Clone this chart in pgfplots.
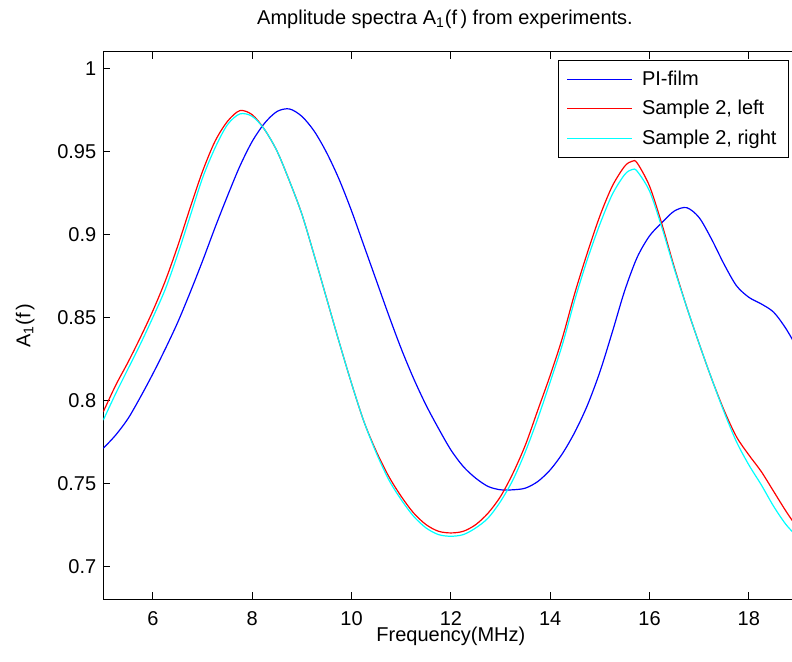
\documentclass[border=0pt]{standalone}
\usepackage{fontspec}
\setmainfont{Liberation Sans}
\usepackage{pgfplots}
\pgfplotsset{compat=1.18}
\definecolor{mblue}{rgb}{0,0,1}
\definecolor{mred}{rgb}{1,0,0}
\definecolor{mcyan}{rgb}{0,1,1}
\newcommand{\ff}{\fontsize{10}{12}\selectfont}
\begin{document}
\begin{tikzpicture}
\begin{axis}[
  name=ax,
  scale only axis,
  width=347.6pt, height=273.8pt,
  xmin=5, xmax=19, ymin=0.68, ymax=1.01,
  xtick={6,8,...,18},
  ytick={0.7,0.75,0.8,0.85,0.9,0.95,1},
  yticklabels={0.7,0.75,0.8,0.85,0.9,0.95,1},
  tick align=inside,
  major tick length=3.5pt,
  axis line style={line width=0.5pt},
  every tick/.style={black, line width=0.5pt},
  /pgf/number format/assume math mode=true,
  tick label style={font=\ff},
  xticklabel style={inner sep=1pt, yshift=-4.9pt},
  title={Amplitude spectra A\textsubscript{1}(f\,) from experiments.},
  title style={font=\ff, at={(0.4915,1)}, anchor=base, yshift=7.8pt},
  xlabel={Frequency(MHz)},
  xlabel style={font=\ff, inner sep=1pt, at={(0.5,0)}, anchor=base, yshift=-21pt},
  ylabel={A\textsubscript{1}(f\,)},
  ylabel style={font=\ff, at={(0,0.5)}, anchor=base, yshift=36.5pt},
  legend cell align=left,
  legend image code/.code={\draw[#1] (0pt,0pt) -- (32.5pt,0pt); \path (35pt,0pt);},
  legend style={at={(0.6545,0.9848)}, anchor=north west, draw=black, line width=0.5pt,
    font=\ff, inner xsep=4pt, inner ysep=3pt, row sep=2pt},
]
\addplot[mblue, line width=0.6pt, smooth] coordinates {
(5.00,0.771) (5.25,0.779) (5.50,0.789) (5.75,0.802) (6.00,0.816) (6.25,0.831)
(6.50,0.847) (6.75,0.865) (7.00,0.884) (7.25,0.904) (7.50,0.923) (7.75,0.941)
(8.00,0.956) (8.25,0.967) (8.50,0.974) (8.75,0.9755) (9.00,0.971) (9.25,0.962)
(9.50,0.949) (9.75,0.933) (10.00,0.914) (10.25,0.893) (10.50,0.872) (10.75,0.851)
(11.00,0.831) (11.25,0.813) (11.50,0.797) (11.75,0.783) (12.00,0.770) (12.25,0.760)
(12.50,0.753) (12.75,0.748) (13.00,0.746) (13.25,0.746) (13.50,0.747) (13.75,0.751)
(14.00,0.758) (14.25,0.768) (14.50,0.781) (14.75,0.797) (15.00,0.817) (15.25,0.841)
(15.50,0.866) (15.75,0.886) (16.00,0.899) (16.25,0.907) (16.50,0.914) (16.75,0.916)
(17.00,0.910) (17.25,0.897) (17.50,0.882) (17.75,0.869) (18.00,0.862) (18.25,0.858)
(18.50,0.853) (18.75,0.843) (19.00,0.830)
};
\addlegendentry{PI-film}
\addplot[mred, line width=0.6pt, smooth] coordinates {
(5.00,0.793) (5.25,0.809) (5.50,0.823) (5.75,0.838) (6.00,0.854) (6.25,0.872)
(6.50,0.893) (6.75,0.916) (7.00,0.938) (7.25,0.956) (7.50,0.968) (7.75,0.9745)
(8.00,0.972) (8.25,0.963) (8.50,0.950) (8.75,0.932) (9.00,0.912) (9.25,0.887)
(9.50,0.861) (9.75,0.835) (10.00,0.810) (10.25,0.787) (10.50,0.769) (10.75,0.754)
(11.00,0.742) (11.25,0.732) (11.50,0.725) (11.75,0.721) (12.00,0.720) (12.25,0.721)
(12.50,0.725) (12.75,0.732) (13.00,0.742) (13.25,0.756) (13.50,0.773) (13.75,0.794)
(14.00,0.815) (14.25,0.838) (14.50,0.865) (14.75,0.889) (15.00,0.911) (15.25,0.929)
(15.50,0.941) (15.65,0.944) (15.75,0.943) (16.00,0.929) (16.25,0.906) (16.50,0.880)
(16.75,0.856) (17.00,0.834) (17.25,0.813) (17.50,0.794) (17.75,0.778) (18.00,0.767)
(18.25,0.757) (18.50,0.745) (18.75,0.733) (19.00,0.722)
};
\addlegendentry{Sample 2, left}
\addplot[mcyan, line width=0.6pt, smooth] coordinates {
(5.00,0.788) (5.25,0.804) (5.50,0.819) (5.75,0.834) (6.00,0.850) (6.25,0.867)
(6.50,0.888) (6.75,0.911) (7.00,0.934) (7.25,0.952) (7.50,0.966) (7.75,0.9725)
(8.00,0.971) (8.25,0.963) (8.50,0.950) (8.75,0.932) (9.00,0.912) (9.25,0.887)
(9.50,0.861) (9.75,0.835) (10.00,0.810) (10.25,0.787) (10.50,0.768) (10.75,0.752)
(11.00,0.740) (11.25,0.730) (11.50,0.723) (11.75,0.719) (12.00,0.718) (12.25,0.719)
(12.50,0.723) (12.75,0.729) (13.00,0.739) (13.25,0.752) (13.50,0.769) (13.75,0.789)
(14.00,0.811) (14.25,0.834) (14.50,0.861) (14.75,0.885) (15.00,0.906) (15.25,0.924)
(15.50,0.936) (15.65,0.939) (15.75,0.938) (16.00,0.926) (16.25,0.904) (16.50,0.879)
(16.75,0.856) (17.00,0.834) (17.25,0.813) (17.50,0.793) (17.75,0.775) (18.00,0.761)
(18.25,0.749) (18.50,0.736) (18.75,0.725) (19.00,0.717)
};
\addlegendentry{Sample 2, right}
\end{axis}
\pgfresetboundingbox
\path ([shift={(-51.65pt,-30.85pt)}]ax.south west) rectangle ([shift={(344.35pt,299.65pt)}]ax.south west);
\end{tikzpicture}
\end{document}
